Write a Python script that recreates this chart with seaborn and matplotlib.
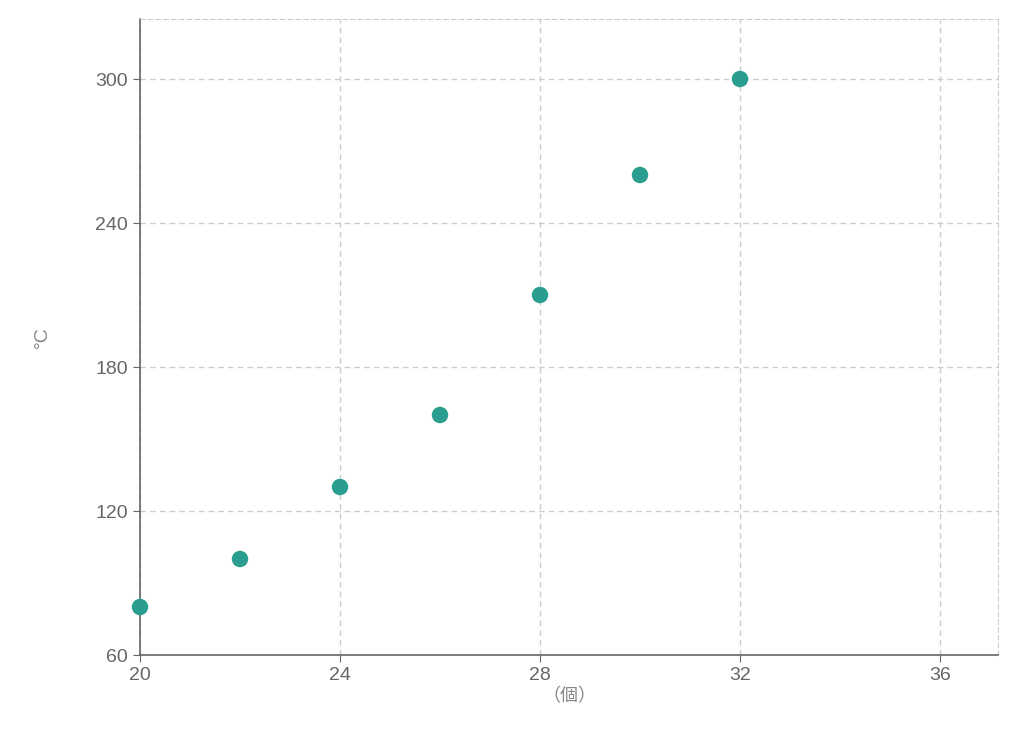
import matplotlib
matplotlib.use("Agg")
import matplotlib.pyplot as plt
import seaborn as sns
import pandas as pd

# data
counts = [20, 22, 24, 26, 28, 30, 32]
temps = [80, 100, 130, 160, 210, 260, 300]
x_ticks = [20, 24, 28, 32, 36]
y_ticks = [60, 120, 180, 240, 300]

sns.set_style("white")
plt.rcParams['font.family'] = ['Liberation Sans', 'Noto Sans CJK JP', 'DejaVu Sans']

df = pd.DataFrame({"count": counts, "temp": temps})

fig = plt.figure(figsize=(10.2, 7.36), dpi=100)
ax = fig.add_axes([140/1020, 81/736, 858/1020, 636/736])

sns.scatterplot(data=df, x="count", y="temp", ax=ax, color="#2a9d8f",
                s=140, edgecolor="none", zorder=3, clip_on=False)

ax.set_xlim(20, 37.16)
ax.set_ylim(60, 325)
ax.set_xticks(x_ticks)
ax.set_yticks(y_ticks)
ax.grid(True, linestyle=(0, (4, 3)), color="#cccccc", linewidth=1)

for side in ["top", "right"]:
    ax.spines[side].set_linestyle((0, (4, 3)))
    ax.spines[side].set_color("#cccccc")
for side in ["left", "bottom"]:
    ax.spines[side].set_color("#666666")
    ax.spines[side].set_linewidth(1.2)

ax.tick_params(axis="both", colors="#666666", labelsize=14, length=5,
               labelcolor="#666666")
ax.tick_params(axis="y", left=True)
ax.tick_params(axis="x", bottom=True)

ax.set_xlabel("（個）", color="#888888", fontsize=13, labelpad=3)
ax.set_ylabel("°C", color="#888888", fontsize=14, labelpad=32)

fig.savefig("out.png", dpi=100)
